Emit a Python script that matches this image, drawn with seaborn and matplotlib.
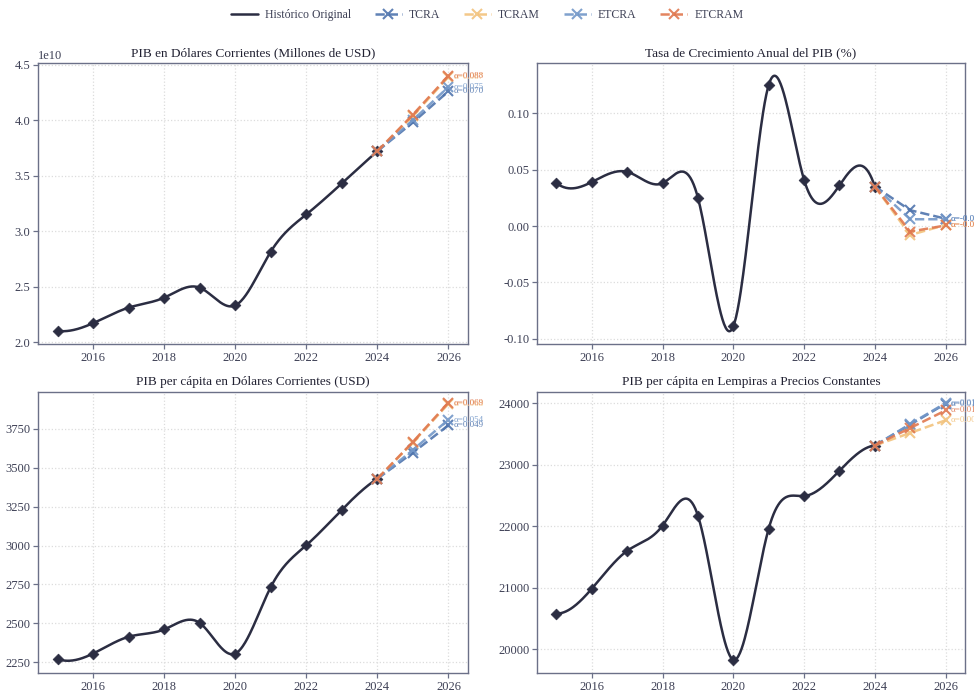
import numpy as np
import pandas as pd
import matplotlib
matplotlib.use("Agg")
import matplotlib.pyplot as plt
import seaborn as sns

# ---------------- data ----------------
years = [2015, 2016, 2017, 2018, 2019, 2020, 2021, 2022, 2023, 2024]
forecast_years = [2024, 2025, 2026]
methods = ["TCRA", "TCRAM", "ETCRA", "ETCRAM"]

# PIB en dólares corrientes (USD)
pib_usd = [2.10e10, 2.17e10, 2.31e10, 2.40e10, 2.49e10, 2.33e10, 2.815e10, 3.15e10, 3.43e10, 3.72e10]
pib_usd_tcra = [3.72e10, 3.98e10, 4.26e10]
pib_usd_tcram = [3.72e10, 4.04e10, 4.39e10]
pib_usd_etcra = [3.72e10, 4.00e10, 4.30e10]
pib_usd_etcram = [3.72e10, 4.05e10, 4.40e10]
pib_usd_alpha = [0.070, 0.087, 0.075, 0.088]

# Tasa de crecimiento anual del PIB
crec = [0.038, 0.039, 0.048, 0.038, 0.025, -0.089, 0.125, 0.041, 0.036, 0.035]
crec_tcra = [0.035, 0.014, 0.0065]
crec_tcram = [0.035, -0.008, 0.001]
crec_etcra = [0.035, 0.006, 0.0060]
crec_etcram = [0.035, -0.005, 0.0005]
crec_alpha = [-0.012, -0.031, -0.014, -0.030]

# PIB per cápita en dólares corrientes
pc_usd = [2270, 2305, 2413, 2460, 2502, 2305, 2733, 3002, 3230, 3430]
pc_usd_tcra = [3430, 3598, 3774]
pc_usd_tcram = [3430, 3663, 3913]
pc_usd_etcra = [3430, 3615, 3810]
pc_usd_etcram = [3430, 3667, 3920]
pc_usd_alpha = [0.049, 0.068, 0.054, 0.069]

# PIB per cápita en lempiras constantes
pc_lps = [20580, 20985, 21600, 22010, 22170, 19830, 21960, 22490, 22900, 23310]
pc_lps_tcra = [23310, 23650, 23990]
pc_lps_tcram = [23310, 23515, 23720]
pc_lps_etcra = [23310, 23660, 24000]
pc_lps_etcram = [23310, 23595, 23880]
pc_lps_alpha = [0.0145, 0.0087, 0.0148, 0.0121]

titles = [
    "PIB en Dólares Corrientes (Millones de USD)",
    "Tasa de Crecimiento Anual del PIB (%)",
    "PIB per cápita en Dólares Corrientes (USD)",
    "PIB per cápita en Lempiras a Precios Constantes",
]

panels = [
    (pib_usd, [pib_usd_tcra, pib_usd_tcram, pib_usd_etcra, pib_usd_etcram], pib_usd_alpha),
    (crec, [crec_tcra, crec_tcram, crec_etcra, crec_etcram], crec_alpha),
    (pc_usd, [pc_usd_tcra, pc_usd_tcram, pc_usd_etcra, pc_usd_etcram], pc_usd_alpha),
    (pc_lps, [pc_lps_tcra, pc_lps_tcram, pc_lps_etcra, pc_lps_etcram], pc_lps_alpha),
]

# ---------------- styling ----------------
hist_color = "#2b2d42"
colors = {"TCRA": "#4f74ad", "TCRAM": "#f2c27c", "ETCRA": "#7297c8", "ETCRAM": "#e0784f"}
spine_color = "#6b7088"
text_color = "#3d4055"

sns.set_theme(style="whitegrid")
plt.rcParams["font.family"] = ["Liberation Serif", "DejaVu Serif"]
plt.rcParams.update({
    "axes.edgecolor": spine_color,
    "axes.linewidth": 1.0,
    "axes.unicode_minus": False,
    "grid.color": "#dcdcdc",
    "grid.linestyle": ":",
    "grid.linewidth": 0.9,
    "xtick.color": spine_color,
    "ytick.color": spine_color,
    "xtick.labelcolor": text_color,
    "ytick.labelcolor": text_color,
    "xtick.major.size": 3.5,
    "ytick.major.size": 3.5,
    "xtick.bottom": True,
    "ytick.left": True,
    "xtick.labelsize": 9,
    "ytick.labelsize": 9,
})


def spline_curve(x, y, n=400):
    """Not-a-knot cubic spline through equally spaced points."""
    x = np.asarray(x, float)
    y = np.asarray(y, float)
    m = len(x)
    h = x[1] - x[0]
    A = np.zeros((m, m))
    b = np.zeros(m)
    A[0, 0:3] = [1, -2, 1]
    A[-1, -3:] = [1, -2, 1]
    for i in range(1, m - 1):
        A[i, i - 1:i + 2] = [1, 4, 1]
        b[i] = 6 * (y[i + 1] - 2 * y[i] + y[i - 1]) / h ** 2
    M = np.linalg.solve(A, b)
    xs = np.linspace(x[0], x[-1], n)
    idx = np.clip(((xs - x[0]) // h).astype(int), 0, m - 2)
    t = (xs - x[idx]) / h
    ys = (M[idx] * (1 - t) ** 3 * h ** 2 / 6 + M[idx + 1] * t ** 3 * h ** 2 / 6
          + (y[idx] - M[idx] * h ** 2 / 6) * (1 - t) + (y[idx + 1] - M[idx + 1] * h ** 2 / 6) * t)
    return xs, ys


fig = plt.figure(figsize=(9.74, 6.93), dpi=100)
positions = [
    [38 / 974, 1 - 344 / 693, 430 / 974, 281 / 693],
    [537 / 974, 1 - 344 / 693, 428 / 974, 281 / 693],
    [38 / 974, 1 - 673 / 693, 430 / 974, 281 / 693],
    [537 / 974, 1 - 673 / 693, 428 / 974, 281 / 693],
]
ylims = [None, None, (2180, 3988), (19615, 24180)]

for k, ((hist, fcs, alphas), title, pos) in enumerate(zip(panels, titles, positions)):
    ax = fig.add_axes(pos)
    xs, ys = spline_curve(years, hist)
    sns.lineplot(x=xs, y=ys, ax=ax, color=hist_color, linewidth=1.8, zorder=3,
                 label="Histórico Original" if k == 0 else None, legend=False)
    sns.scatterplot(x=years, y=hist, ax=ax, marker="D", s=30, color=hist_color,
                    edgecolor=hist_color, linewidth=0.5, zorder=4, legend=False)
    for name, vals, a in zip(methods, fcs, alphas):
        df = pd.DataFrame({"year": forecast_years, "value": vals})
        sns.lineplot(data=df, x="year", y="value", ax=ax, color=colors[name],
                     linestyle="--", dashes=(3.5, 2), linewidth=1.8, marker="x",
                     markersize=7, markeredgewidth=1.5, markeredgecolor=colors[name],
                     markerfacecolor=colors[name], alpha=0.9, zorder=5,
                     label=name if k == 0 else None, legend=False)
        ax.annotate(f"α={a:.3f}", xy=(forecast_years[-1], vals[-1]), xytext=(4, 0),
                    textcoords="offset points", fontsize=6.5, color=colors[name],
                    va="center", ha="left", annotation_clip=False, alpha=0.9)
    ax.set_title(title, fontsize=9.5, color="#222233", pad=5)
    ax.set_xlabel("")
    ax.set_ylabel("")
    ax.set_xticks([2016, 2018, 2020, 2022, 2024, 2026])
    ax.set_xlim(2014.45, 2026.55)
    if ylims[k] is not None:
        ax.set_ylim(*ylims[k])
    ax.grid(True)
    for sp in ax.spines.values():
        sp.set_color(spine_color)
    ax.tick_params(axis="both", length=3.5, width=0.9, pad=2)
    if k == 0:
        ax.yaxis.get_offset_text().set_color(text_color)
        ax.yaxis.get_offset_text().set_fontsize(9)
        legend_ax = ax

handles, labels = legend_ax.get_legend_handles_labels()
fig.legend(handles, labels, loc="center", bbox_to_anchor=(0.5, 1 - 15 / 693), ncol=5,
           frameon=False, fontsize=8.5, handlelength=2.3, handletextpad=0.6,
           columnspacing=2.0, labelcolor=text_color)

fig.savefig("out.png", dpi=100, facecolor="white")
